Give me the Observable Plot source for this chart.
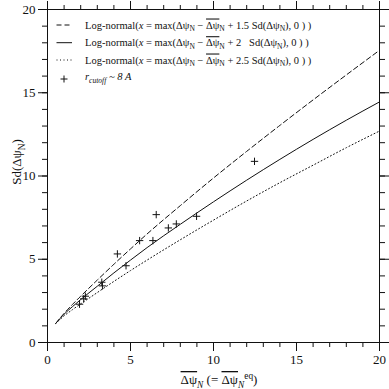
<!DOCTYPE html>
<html><head><meta charset="utf-8">
<script src="https://cdn.jsdelivr.net/npm/d3@7"></script>
<script src="https://cdn.jsdelivr.net/npm/@observablehq/plot@0.6"></script>
<style>body{margin:0;background:#fff}</style>
</head><body><div id="chart"></div>
<script>
// curve samples
const curveX  = [0.5, 1, 1.5, 2, 3, 4, 5, 6, 8, 10, 12, 14, 16, 18, 20];
const dashedY = [1.15, 1.75, 2.28, 2.78, 3.75, 4.7, 5.62, 6.52, 8.22, 9.88, 11.48, 13.04, 14.57, 16.07, 17.55];
const solidY  = [1.15, 1.7, 2.15, 2.58, 3.38, 4.18, 4.95, 5.7, 7.1, 8.45, 9.75, 11.0, 12.2, 13.35, 14.45];
const dottedY = [1.15, 1.6, 1.97, 2.32, 3.0, 3.67, 4.32, 4.95, 6.17, 7.35, 8.5, 9.6, 10.65, 11.7, 12.7];
// r_cutoff ~ 8 A points
const ptX = [1.93, 2.18, 2.28, 3.27, 3.31, 4.21, 4.73, 5.55, 6.35, 6.55, 7.28, 7.76, 8.98, 12.47];
const ptY = [2.30, 2.62, 2.78, 3.62, 3.40, 5.32, 4.61, 6.12, 6.12, 7.68, 6.88, 7.12, 7.58, 10.88];
const majorTicks = [0, 5, 10, 15, 20];
const minorTicks = d3.range(0, 21, 1);

const toRows = (xs, ys) => xs.map((x, i) => ({x, y: ys[i]}));
const dashed = toRows(curveX, dashedY);
const solid = toRows(curveX, solidY);
const dotted = toRows(curveX, dottedY);
const points = toRows(ptX, ptY);

const ink = "#111";
const font = "'Liberation Serif', 'DejaVu Serif', serif";

const chart = Plot.plot({
  width: 389, height: 389,
  marginLeft: 47, marginRight: 10, marginTop: 9, marginBottom: 47,
  style: {fontFamily: font, fontSize: "13px", color: ink, background: "#fff"},
  x: {domain: [0, 20]},
  y: {domain: [0, 20]},
  marks: [
    Plot.axisX({anchor: "bottom", ticks: majorTicks, tickSize: 9, tickPadding: 3, label: null, fontSize: 13}),
    Plot.axisX({anchor: "bottom", ticks: minorTicks, tickSize: 5, text: null, label: null}),
    Plot.axisX({anchor: "top", ticks: majorTicks, tickSize: 9, text: null, label: null}),
    Plot.axisX({anchor: "top", ticks: minorTicks, tickSize: 5, text: null, label: null}),
    Plot.axisY({anchor: "left", ticks: majorTicks, tickSize: 9, tickPadding: 3, label: null, fontSize: 13}),
    Plot.axisY({anchor: "left", ticks: minorTicks, tickSize: 5, text: null, label: null}),
    Plot.axisY({anchor: "right", ticks: majorTicks, tickSize: 9, text: null, label: null}),
    Plot.axisY({anchor: "right", ticks: minorTicks, tickSize: 5, text: null, label: null}),
    Plot.line(dashed, {x: "x", y: "y", stroke: ink, strokeWidth: 1, strokeDasharray: "5,3", curve: "monotone-x"}),
    Plot.line(solid, {x: "x", y: "y", stroke: ink, strokeWidth: 1, curve: "monotone-x"}),
    Plot.line(dotted, {x: "x", y: "y", stroke: ink, strokeWidth: 1, strokeDasharray: "1,2.5", curve: "monotone-x"}),
    Plot.dot(points, {x: "x", y: "y", symbol: "plus", r: 2.5, stroke: ink, strokeWidth: 1}),
    Plot.frame({stroke: ink, strokeWidth: 1})
  ]
});
document.getElementById("chart").append(chart);

// rich text helper
const svg = d3.select(chart);
function rich(sel, segs, size) {
  let shift = 0;
  segs.forEach(s => {
    const want = s.sub ? size * 0.28 : s.sup ? -size * 0.38 : 0;
    const ts = sel.append("tspan").text(s.t).attr("dy", want - shift);
    shift = want;
    if (s.sub || s.sup) ts.attr("font-size", size * 0.72);
    if (s.i) ts.attr("font-style", "italic");
    if (s.over) ts.style("text-decoration", "overline");
  });
}
const lsize = 10.5;
const legend = [
  {dash: "5,3", k: "1.5 "},
  {dash: null, k: "2   "},
  {dash: "1,2.5", k: "2.5 "}
];
const rowY = [25, 42.7, 60, 79];
const g = svg.append("g").attr("font-family", font).attr("fill", ink).attr("text-anchor", "start");
legend.forEach((d, i) => {
  g.append("line").attr("x1", 56.5).attr("x2", 72).attr("y1", rowY[i]).attr("y2", rowY[i])
    .attr("stroke", ink).attr("stroke-dasharray", d.dash);
  const t = g.append("text").attr("x", 85).attr("y", rowY[i] + 3.5).attr("font-size", lsize)
    .attr("text-anchor", "start").attr("xml:space", "preserve").style("white-space", "pre");
  rich(t, [
    {t: "Log-normal("}, {t: "x", i: true}, {t: " = max(Δψ"}, {t: "N", sub: true},
    {t: " − "}, {t: "Δψ", over: true}, {t: "N", sub: true},
    {t: " + " + d.k + "Sd(Δψ"}, {t: "N", sub: true}, {t: "), 0 ) )"}
  ], lsize);
});
g.append("path").attr("transform", `translate(64,${rowY[3]})`)
  .attr("d", "M-3.5,0H3.5M0,-3.5V3.5").attr("stroke", ink).attr("fill", "none");
const t4 = g.append("text").attr("x", 85).attr("y", rowY[3] + 1).attr("font-size", lsize)
  .attr("text-anchor", "start");
rich(t4, [{t: "r", i: true}, {t: "cutoff", i: true, sub: true}, {t: " ~ 8 ", i: true}, {t: "A", i: true}], lsize);

// axis titles
const xl = g.append("text").attr("x", 219).attr("y", 384).attr("font-size", 13).attr("text-anchor", "middle")
  .attr("xml:space", "preserve").style("white-space", "pre");
rich(xl, [{t: "Δψ", over: true}, {t: "N", sub: true, i: true}, {t: " (= "}, {t: "Δψ", over: true},
  {t: "N", sub: true, i: true}, {t: "eq", sup: true}, {t: ")"}], 13);
const yl = g.append("text").attr("transform", "translate(21,162) rotate(-90)").attr("font-size", 13)
  .attr("text-anchor", "middle");
rich(yl, [{t: "Sd(Δψ"}, {t: "N", sub: true}, {t: ")"}], 13);
</script></body></html>
